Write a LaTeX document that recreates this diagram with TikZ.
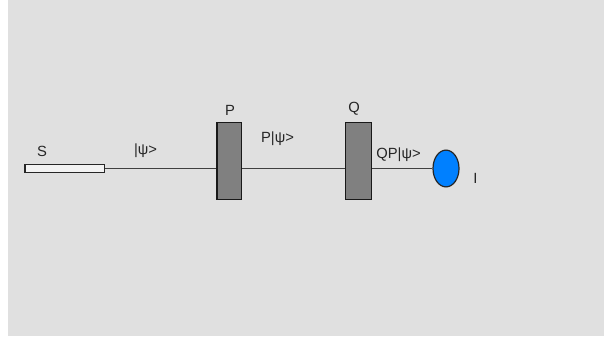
\documentclass[tikz,border=0pt]{standalone}
\usepackage{fontspec}
\setmainfont{Liberation Sans}
\usepackage{tikz}
\usetikzlibrary{shapes.geometric}
\definecolor{panelgray}{HTML}{E0E0E0}
\definecolor{gategray}{HTML}{808080}
\definecolor{detblue}{HTML}{0080FF}
\tikzset{
	label/.style={text=black!85,inner sep=0pt,font=\fontsize{10.5}{12}\selectfont},
	wire/.style={draw=black!75,line width=.3mm},
	gate/.style={draw=black!90,fill=gategray,line width=.35mm,inner sep=0pt,minimum width=6.2mm,minimum height=19.2mm},
}

\begin{document}
\begin{tikzpicture}[x=.25mm,y=-.25mm]
	\useasboundingbox (0,0) rectangle (605,339);
	\fill[panelgray] (8,0) rectangle (604,335.5);
	
	%source
	\node[draw=black!85,fill=white!95!black,line width=.3mm,inner sep=0pt,minimum width=19.8mm,minimum height=2mm] (s) at (64.7,168.5) {};
	%gates
	\node[gate] (p) at (229.2,161.2) {};
	\node[gate,minimum width=6.5mm] (q) at (358.5,160.8) {};
	%detector
	\node[ellipse,draw=black!85,fill=detblue,line width=.3mm,inner sep=0pt,minimum width=6.5mm,minimum height=9.2mm] (d) at (446,168.5) {};
	
	%wires
	\coordinate (w1) at (s.east);
	\draw[wire] (w1) -- (w1 -| p.west);
	\draw[wire] (w1 -| p.east) -- (w1 -| q.west);
	\draw[wire] (w1 -| q.east) -- (w1 -| d.west);
	
	%labels
	\node[label] (ls) at (42,151) {S};
	\node[label] (lk) at (145.5,151) {|ψ>};
	\node[label] (lp) at (230,110) {P};
	\node[label] (lpk) at (277.5,138.5) {P|ψ>};
	\node[label] (lq) at (354,109) {Q};
	\node[label] (lqk) at (398.5,154.5) {QP|ψ>};
	\node[label] (li) at (475.5,178) {I};
\end{tikzpicture}
\end{document}
